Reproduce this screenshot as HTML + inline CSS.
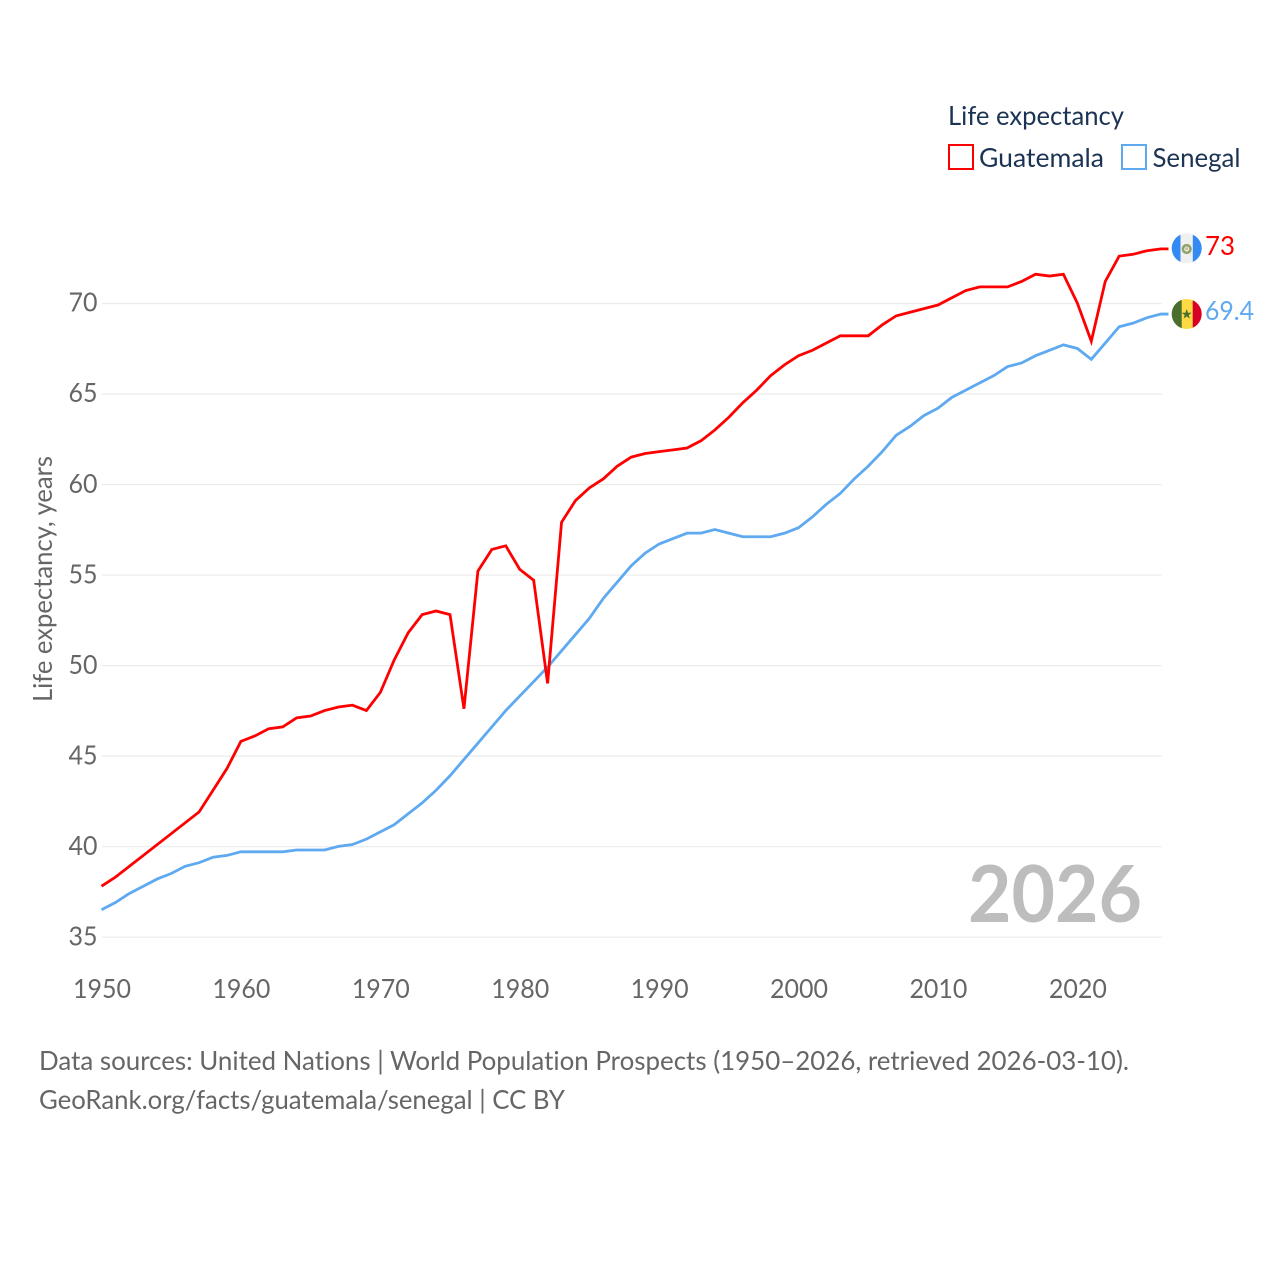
<!DOCTYPE html>
<html lang="en">
<head>
<meta charset="utf-8">
<title>Life expectancy: Guatemala and Senegal</title>
<style>
html,body{margin:0;padding:0;background:#fff;width:1280px;height:1280px;overflow:hidden}
svg{display:block}
text{font-family:"Lato","Carlito","Liberation Sans",sans-serif;text-rendering:optimizeSpeed}
</style>
</head>
<body>
<svg id="chart" xmlns="http://www.w3.org/2000/svg" width="1280" height="1280" viewBox="0 0 1280 1280">
  <rect x="0" y="0" width="1280" height="1280" fill="#fff"/>
  <g id="grid"></g>
  <g id="y-ticks"></g>
  <g id="x-ticks"></g>
  <text x="52" y="579" transform="rotate(-90 52 579)" text-anchor="middle" font-size="26" fill="#666" textLength="246" lengthAdjust="spacingAndGlyphs">Life expectancy, years</text>
  <text x="968" y="922" font-size="79" font-weight="700" fill="#bdbdbd" textLength="174" lengthAdjust="spacingAndGlyphs">2026</text>
  <g id="series"></g>

  <g>
    <text x="948" y="125" font-size="26" fill="#1c3454" textLength="176" lengthAdjust="spacingAndGlyphs">Life expectancy</text>
    <g>
      <rect x="949" y="145" width="24" height="24" fill="#fff" stroke="#ff0000" stroke-width="2"/>
      <text x="979" y="167" font-size="26" fill="#1c3454" textLength="125" lengthAdjust="spacingAndGlyphs">Guatemala</text>
    </g>
    <g>
      <rect x="1122" y="145" width="24" height="24" fill="#fff" stroke="#5ea9f0" stroke-width="2"/>
      <text x="1152.5" y="167" font-size="26" fill="#1c3454" textLength="88" lengthAdjust="spacingAndGlyphs">Senegal</text>
    </g>
  </g>

  <defs>
    <clipPath id="flag-clip-gt"><circle cx="1186.7" cy="248.3" r="15"/></clipPath>
    <clipPath id="flag-clip-sn"><circle cx="1186.7" cy="314" r="15"/></clipPath>
  </defs>
  <g clip-path="url(#flag-clip-gt)">
    <rect x="1171" y="233" width="32" height="32" fill="#f0f0f0"/>
    <rect x="1171" y="233" width="9.5" height="32" fill="#338af3"/>
    <rect x="1192.8" y="233" width="11" height="32" fill="#338af3"/>
    <circle cx="1186.7" cy="249" r="3.8" fill="none" stroke="#8fa36a" stroke-width="2.6"/>
    <circle cx="1186.7" cy="248.6" r="1.4" fill="#c9b98a"/>
  </g>
  <g clip-path="url(#flag-clip-sn)">
    <rect x="1171" y="298" width="32" height="32" fill="#ffda44"/>
    <rect x="1171" y="298" width="10.7" height="32" fill="#496e2d"/>
    <rect x="1192.7" y="298" width="11" height="32" fill="#d80027"/>
    <polygon points="1186.7,309 1188,312.7 1191.8,312.7 1188.7,315 1189.9,318.6 1186.7,316.4 1183.5,318.6 1184.7,315 1181.6,312.7 1185.4,312.7" fill="#496e2d"/>
  </g>
  <text x="1205" y="255" font-size="26" fill="#ff0000" textLength="30" lengthAdjust="spacingAndGlyphs">73</text>
  <text x="1205" y="320" font-size="26" fill="#5ea9f0" textLength="49" lengthAdjust="spacingAndGlyphs">69.4</text>

  <text x="39" y="1070" font-size="26" fill="#666" textLength="1090" lengthAdjust="spacingAndGlyphs">Data sources: United Nations | World Population Prospects (1950–2026, retrieved 2026-03-10).</text>
  <text x="39" y="1109" font-size="26" fill="#666" textLength="526" lengthAdjust="spacingAndGlyphs">GeoRank.org/facts/guatemala/senegal | CC BY</text>
</svg>
<script>
const startYear = 1950;
const yTickValues = [35, 40, 45, 50, 55, 60, 65, 70];
const xTickValues = [1950, 1960, 1970, 1980, 1990, 2000, 2010, 2020];
const guatemalaValues = [
  37.8, 38.3, 38.9, 39.5, 40.1, 40.7, 41.3, 41.9, 43.1, 44.3,
  45.8, 46.1, 46.5, 46.6, 47.1, 47.2, 47.5, 47.7, 47.8, 47.5,
  48.5, 50.3, 51.8, 52.8, 53.0, 52.8, 47.6, 55.2, 56.4, 56.6,
  55.3, 54.7, 49.0, 57.9, 59.1, 59.8, 60.3, 61.0, 61.5, 61.7,
  61.8, 61.9, 62.0, 62.4, 63.0, 63.7, 64.5, 65.2, 66.0, 66.6,
  67.1, 67.4, 67.8, 68.2, 68.2, 68.2, 68.8, 69.3, 69.5, 69.7,
  69.9, 70.3, 70.7, 70.9, 70.9, 70.9, 71.2, 71.6, 71.5, 71.6,
  70.0, 67.9, 71.2, 72.6, 72.7, 72.9, 73.0
];
const senegalValues = [
  36.5, 36.9, 37.4, 37.8, 38.2, 38.5, 38.9, 39.1, 39.4, 39.5,
  39.7, 39.7, 39.7, 39.7, 39.8, 39.8, 39.8, 40.0, 40.1, 40.4,
  40.8, 41.2, 41.8, 42.4, 43.1, 43.9, 44.8, 45.7, 46.6, 47.5,
  48.3, 49.1, 49.9, 50.8, 51.7, 52.6, 53.7, 54.6, 55.5, 56.2,
  56.7, 57.0, 57.3, 57.3, 57.5, 57.3, 57.1, 57.1, 57.1, 57.3,
  57.6, 58.2, 58.9, 59.5, 60.3, 61.0, 61.8, 62.7, 63.2, 63.8,
  64.2, 64.8, 65.2, 65.6, 66.0, 66.5, 66.7, 67.1, 67.4, 67.7,
  67.5, 66.9, 67.8, 68.7, 68.9, 69.2, 69.4
];

const NS = 'http://www.w3.org/2000/svg';
const plotLeft = 101.5, plotRight = 1161, endYear = 2026;
const gridLeft = 102, gridRight = 1161.6;
const tickCenterOffset = 0.5;
const yTop = 303.2, yTopValue = 70, yBottom = 936.9, yBottomValue = 35;
function xScale(year) {
  return plotLeft + (year - 1950) * (plotRight - plotLeft) / (endYear - 1950);
}
function yScale(value) {
  return yBottom + (value - yBottomValue) * (yTop - yBottom) / (yTopValue - yBottomValue);
}
const gridGroup = document.getElementById('grid');
const yTickGroup = document.getElementById('y-ticks');
const xTickGroup = document.getElementById('x-ticks');
const seriesGroup = document.getElementById('series');

yTickValues.forEach(function (v) {
  const line = document.createElementNS(NS, 'line');
  
  
  line.setAttribute('x1', gridLeft);
  line.setAttribute('x2', gridRight);
  line.setAttribute('y1', yScale(v) + 0.3);
  line.setAttribute('y2', yScale(v) + 0.3);
  line.setAttribute('stroke', '#ebebeb');
  line.setAttribute('stroke-width', '1.2');
  gridGroup.appendChild(line);

  const label = document.createElementNS(NS, 'text');
  
  
  label.setAttribute('x', 97.5);
  label.setAttribute('y', yScale(v) + 8.5);
  label.setAttribute('text-anchor', 'end');
  label.setAttribute('font-size', '26');
  label.setAttribute('fill', '#666');
  label.setAttribute('textLength', '29');
  label.setAttribute('lengthAdjust', 'spacingAndGlyphs');
  label.textContent = String(v);
  yTickGroup.appendChild(label);
});

xTickValues.forEach(function (year) {
  const label = document.createElementNS(NS, 'text');
  
  
  label.setAttribute('x', xScale(year) + tickCenterOffset);
  label.setAttribute('y', 998);
  label.setAttribute('text-anchor', 'middle');
  label.setAttribute('font-size', '26');
  label.setAttribute('fill', '#666');
  label.setAttribute('textLength', '58');
  label.setAttribute('lengthAdjust', 'spacingAndGlyphs');
  label.textContent = String(year);
  xTickGroup.appendChild(label);
});

function drawSeries(values, color, name) {
  const pts = values.map(function (v, i) {
    return xScale(startYear + i).toFixed(2) + ',' + yScale(v).toFixed(2);
  });
  const last = values.length - 1;
  pts.push((xScale(startYear + last) + 7.5).toFixed(2) + ',' + yScale(values[last]).toFixed(2));
  const path = document.createElementNS(NS, 'polyline');
  
  
  path.setAttribute('points', pts.join(' '));
  path.setAttribute('fill', 'none');
  path.setAttribute('stroke', color);
  path.setAttribute('stroke-width', '2.8');
  path.setAttribute('stroke-linejoin', 'miter');
  path.setAttribute('stroke-miterlimit', '4');
  seriesGroup.appendChild(path);
}
drawSeries(senegalValues, '#5ea9f0', 'senegal-line');
drawSeries(guatemalaValues, '#ff0000', 'guatemala-line');
</script>
</body>
</html>
